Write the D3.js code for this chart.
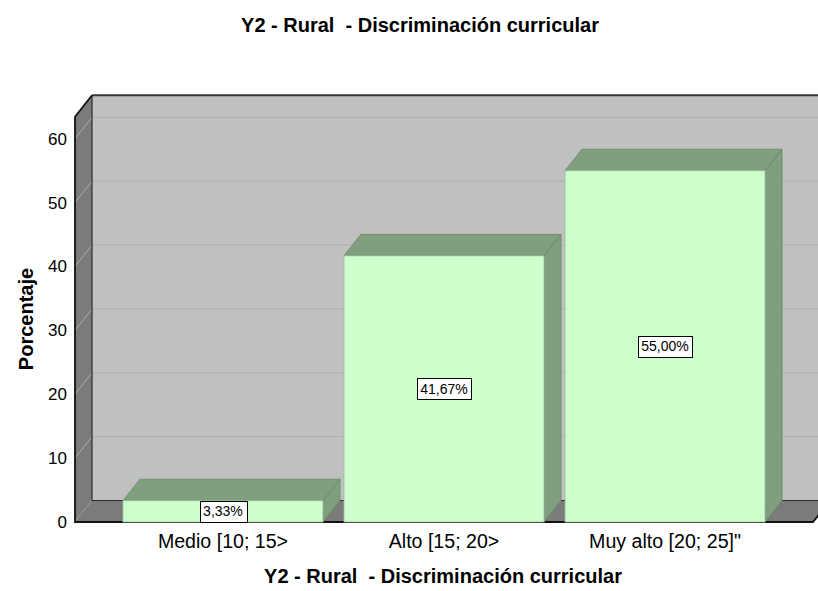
<!DOCTYPE html>
<html><head><meta charset="utf-8">
<script src="https://cdn.jsdelivr.net/npm/d3@7"></script>
<style>body{margin:0;background:#fff}svg{display:block;font-family:Arial,"Liberation Sans",sans-serif}text{white-space:pre}</style>
</head><body>
<svg id="c" width="818" height="591"></svg>
<script>
const categories = ["Medio [10; 15>", "Alto [15; 20>", "Muy alto [20; 25]\""];
const values = [3.33, 41.67, 55.00];
const valueLabels = ["3,33%", "41,67%", "55,00%"];
const yTicks = [0, 10, 20, 30, 40, 50, 60];
const titleText = "Y2 - Rural  - Discriminación curricular";
const xTitle = "Y2 - Rural  - Discriminación curricular";
const yTitle = "Porcentaje";

const svg = d3.select("#c");
const dx = 17, dy = -21.5;
const x0 = 75, x1 = 813, yZero = 522, yTop = 116.7;
const y = d3.scaleLinear().domain([0, 63.46]).range([yZero, yTop]);
const x = d3.scaleBand().domain(categories).range([x0, x1]).paddingInner(0.095).paddingOuter(0.217);

// back wall
svg.append("rect").attr("x", x0+dx).attr("y", yTop+dy).attr("width", 830-(x0+dx)+5).attr("height", yZero-yTop)
  .attr("fill", "#c0c0c0");
// left wall
svg.append("polygon").attr("points", [[x0,yZero],[x0,yTop],[x0+dx,yTop+dy],[x0+dx,yZero+dy]].join(" "))
  .attr("fill", "#7b7b7b");
// gridlines
yTicks.forEach(t => {
  const yy = y(t);
  svg.append("line").attr("x1", x0).attr("y1", yy).attr("x2", x0+dx).attr("y2", yy+dy).attr("stroke", "#adadad").attr("stroke-width", 1);
  svg.append("line").attr("x1", x0+dx).attr("y1", yy+dy).attr("x2", 830).attr("y2", yy+dy).attr("stroke", "#adadad").attr("stroke-width", 1);
});
// floor
svg.append("polygon").attr("points", [[x0,yZero],[x1,yZero],[x1+dx,yZero+dy],[x0+dx,yZero+dy]].join(" "))
  .attr("fill", "#7b7b7b");
// edges
svg.append("line").attr("x1", x0+dx).attr("y1", yTop+dy).attr("x2", 830).attr("y2", yTop+dy).attr("stroke", "#3a3a3a").attr("stroke-width", 2);
svg.append("line").attr("x1", x0+dx).attr("y1", yTop+dy).attr("x2", x0+dx).attr("y2", yZero+dy).attr("stroke", "#2a2a2a").attr("stroke-width", 1.2);
svg.append("line").attr("x1", x0+dx).attr("y1", yZero+dy).attr("x2", 830).attr("y2", yZero+dy).attr("stroke", "#2a2a2a").attr("stroke-width", 1.2);
svg.append("polyline").attr("points", [[x0+dx,yTop+dy],[x0,yTop],[x0,yZero],[x1,yZero],[x1+dx,yZero+dy]].join(" "))
  .attr("fill", "none").attr("stroke", "#111").attr("stroke-width", 1.8);

// bars
const g = svg.append("g");
categories.forEach((c, i) => {
  const bx = x(c), bw = x.bandwidth(), by = y(values[i]);
  g.append("polygon").attr("points", [[bx+bw,by],[bx+bw,yZero],[bx+bw+dx,yZero+dy],[bx+bw+dx,by+dy]].join(" "))
    .attr("fill", "#7f9f7f").attr("stroke", "#668866").attr("stroke-width", 0.8);
  g.append("polygon").attr("points", [[bx,by],[bx+bw,by],[bx+bw+dx,by+dy],[bx+dx,by+dy]].join(" "))
    .attr("fill", "#7f9f7f").attr("stroke", "#668866").attr("stroke-width", 0.8);
  g.append("rect").attr("x", bx).attr("y", by).attr("width", bw).attr("height", yZero-by)
    .attr("fill", "#ccffcc").attr("stroke", "#9dbb9d").attr("stroke-width", 0.8);
});
// value labels
categories.forEach((c, i) => {
  const cx = x(c) + x.bandwidth()/2, cy = (y(values[i]) + yZero)/2;
  const t = svg.append("text").attr("x", cx).attr("y", cy).attr("dy", "0.36em").attr("text-anchor", "middle")
    .attr("font-size", 14).attr("fill", "#000").text(valueLabels[i]);
  const bb = t.node().getBBox();
  svg.insert("rect", () => t.node()).attr("x", Math.round(bb.x-3.5)+0.5).attr("y", Math.round(cy-10.5)+0.5)
    .attr("width", Math.round(bb.width+7)).attr("height", 21).attr("fill", "#fff").attr("stroke", "#000").attr("stroke-width", 1);
});

// y tick labels
yTicks.forEach(t => {
  svg.append("text").attr("x", 67).attr("y", y(t)).attr("dy", "0.35em").attr("text-anchor", "end")
    .attr("font-size", 17).attr("fill", "#000").text(d3.format("d")(t));
});
// x category labels
categories.forEach(c => {
  svg.append("text").attr("x", x(c) + x.bandwidth()/2).attr("y", 548).attr("text-anchor", "middle")
    .attr("font-size", 19.6).attr("fill", "#000").text(c);
});
// titles
svg.append("text").attr("x", 420).attr("y", 32).attr("text-anchor", "middle").attr("font-size", 20).attr("font-weight", "bold").text(titleText);
svg.append("text").attr("x", 443).attr("y", 583).attr("text-anchor", "middle").attr("font-size", 20).attr("font-weight", "bold").text(xTitle);
svg.append("text").attr("transform", "translate(32.5,319) rotate(-90)").attr("text-anchor", "middle").attr("font-size", 20).attr("font-weight", "bold").text(yTitle);
</script>
</body></html>
